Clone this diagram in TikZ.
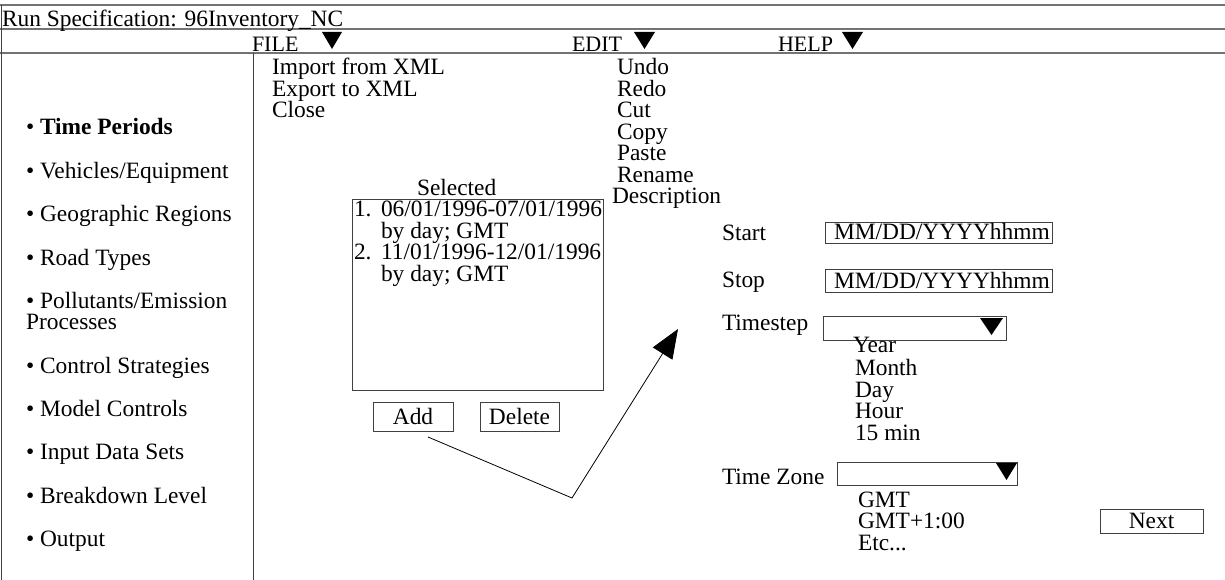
\documentclass[tikz,border=0pt]{standalone}
\usepackage{fontspec}
\setmainfont{Liberation Serif}
\usetikzlibrary{arrows.meta}
% small filled menu arrow: left x, top y, width
\newcommand\menuarrow[3]{\fill (#1,#2) -- ++(#3,0) -- ++(-#3/2,17) -- cycle;}
\begin{document}
\begin{tikzpicture}[x=1pt,y=-1pt,
  every node/.style={inner sep=0pt,outer sep=0pt,font=\fontsize{23.4}{22}\selectfont},
  txt/.style={anchor=base west},
  menu/.style={anchor=base west,font=\fontsize{22}{22}\selectfont},
  rule/.style={draw=black!55,line width=1.4pt},
  border/.style={draw=black!75,line width=1pt},
  box/.style={draw=black!75,line width=1pt,rectangle},
  link/.style={draw=black,line width=0.8pt}
]
\useasboundingbox (0,0) rectangle (1225,580);

% window frame and header rules
\draw[rule] (0,5) -- (1225,5);
\draw[rule] (0,29) -- (1225,29);
\draw[rule] (0,53) -- (1225,53);
\draw[border] (1.5,5) -- (1.5,580);
\draw[border] (253,53) -- (253,580);

\node[txt] (title) at (2,27) {Run Specification: 96Inventory\_NC};
\node[menu] (file) at (252,52) {FILE};
\menuarrow{322}{32}{20}
\node[menu] (edit) at (572,52) {EDIT};
\menuarrow{634}{32}{21}
\node[menu] (help) at (778,52) {HELP};
\menuarrow{842}{32}{21}

% navigation list
\node[txt] (nav1) at (26,135) {• \textbf{Time Periods}};
\node[txt] (nav2) at (26,178.3) {• Vehicles/Equipment};
\node[txt] (nav3) at (26,221.6) {• Geographic Regions};
\node[txt] (nav4) at (26,265) {• Road Types};
\node[txt] (nav5) at (26,308.3) {• Pollutants/Emission};
\node[txt] (nav5b) at (26,329.8) {Processes};
\node[txt] (nav6) at (26,373) {• Control Strategies};
\node[txt] (nav7) at (26,416.4) {• Model Controls};
\node[txt] (nav8) at (26,459.7) {• Input Data Sets};
\node[txt] (nav9) at (26,503) {• Breakdown Level};
\node[txt] (nav10) at (26,546.3) {• Output};

% FILE menu
\node[txt] (imp) at (272,75) {Import from XML};
\node[txt] (exp) at (272,96.5) {Export to XML};
\node[txt] (cls) at (272,118) {Close};

% EDIT menu
\node[txt] (undo) at (617,75) {Undo};
\node[txt] (redo) at (617,96.5) {Redo};
\node[txt] (cut) at (617,118) {Cut};
\node[txt] (copy) at (617,139.5) {Copy};
\node[txt] (paste) at (617,161) {Paste};
\node[txt] (ren) at (617,182.5) {Rename};
\node[txt] (desc) at (612,204) {Description};

% selected periods
\node[txt] (sel) at (417,195) {Selected};
\node[box,minimum width=251pt,minimum height=191pt] (list) at (477.5,294.5) {};
\node[txt] (n1) at (354,216) {1.};
\node[txt] (d1) at (381,216) {06/01/1996-07/01/1996};
\node[txt] (s1) at (381,238) {by day; GMT};
\node[txt] (n2) at (354,259) {2.};
\node[txt] (d2) at (381,259) {11/01/1996-12/01/1996};
\node[txt] (s2) at (381,281) {by day; GMT};

\node[box,minimum width=80pt,minimum height=29pt] (add) at (413,416.5) {Add};
\node[box,minimum width=79pt,minimum height=29pt] (del) at (519.5,416.5) {Delete};

% period entry form
\node[txt] (startl) at (722,240) {Start};
\node[box,minimum width=227pt,minimum height=21pt] (startbox) at (938.5,232.5) {};
\node[txt] (startv) at (834,239.5) {MM/DD/YYYYhhmm};
\node[txt] (stopl) at (722,287) {Stop};
\node[box,minimum width=227pt,minimum height=23pt] (stopbox) at (938.5,280.5) {};
\node[txt] (stopv) at (834,288) {MM/DD/YYYYhhmm};

\node[txt] (stepl) at (722,330) {Timestep};
\node[box,minimum width=183pt,minimum height=24pt] (stepbox) at (914.5,328) {};
\menuarrow{980}{318}{23}
\node[txt] (yr) at (853,352) {Year};
\node[txt] (mo) at (855,375) {Month};
\node[txt] (dy) at (855,397) {Day};
\node[txt] (hr) at (855,418.5) {Hour};
\node[txt] (mn) at (855,440) {15 min};

\node[txt] (tzl) at (722,484) {Time Zone};
\node[box,minimum width=180pt,minimum height=23pt] (tzbox) at (927,473.5) {};
\menuarrow{996}{463}{21}
\node[txt] (g0) at (858,507) {GMT};
\node[txt] (g1) at (858,528.5) {GMT+1:00};
\node[txt] (g2) at (858,550) {Etc...};

\node[box,minimum width=103pt,minimum height=24pt] (next) at (1151.5,521) {Next};

% flow from Add to the entry form
\coordinate (addfoot) at (428,437);
\coordinate (knee) at (572,498);
\coordinate (aim) at (678,329);
\draw[link,-{Triangle[length=29pt,width=23pt]}] (addfoot) -- (knee) -- (aim);
\end{tikzpicture}
\end{document}
